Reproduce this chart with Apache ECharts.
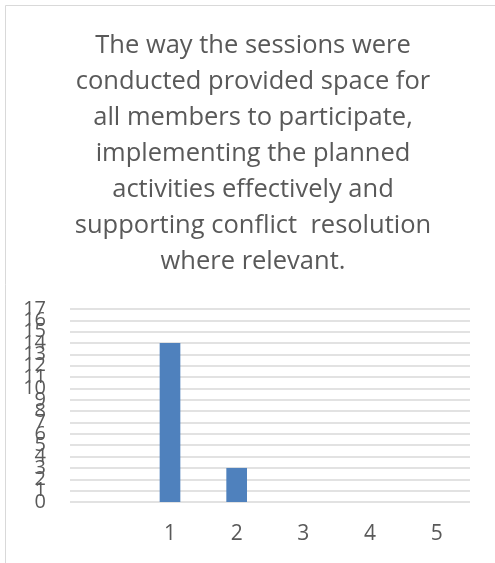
<!DOCTYPE html>
<html>
<head>
<meta charset="utf-8">
<style>
  html, body { margin: 0; padding: 0; background: #ffffff; }
  #chart { width: 495px; height: 563px; }
</style>
<script src="https://cdn.jsdelivr.net/npm/echarts@6/dist/echarts.min.js"></script>
</head>
<body>
<div id="chart"></div>
<script>
// Response categories (first slot is an empty leading category)
const categories = ['', '1', '2', '3', '4', '5'];
// Number of responses per category
const responses = [null, 14, 3, 0, 0, 0];
// Value axis range
const yMin = 0;
const yMax = 17;
const yStep = 1;

const titleText = 'The way the sessions were\nconducted provided space for\nall members to participate,\nimplementing the planned\nactivities effectively and\nsupporting conflict  resolution\nwhere relevant.';

const chart = echarts.init(document.getElementById('chart'), null, { renderer: 'canvas' });
const textColor = '#595959';
const gridColor = '#d9d9d9';

// The tick labels are tightly packed; they are spread over three stacked
// copies of the value axis (every third tick on each) so none gets dropped.
const labelLayers = 3;
const yAxes = [];
for (let k = 0; k < labelLayers; k++) {
  yAxes.push({
    type: 'value',
    min: yMin,
    max: yMax,
    interval: yStep,
    position: 'left',
    offset: 0,
    axisLine: { show: false },
    axisTick: { show: false },
    axisLabel: {
      color: textColor,
      fontFamily: 'Open Sans',
      fontSize: 20,
      margin: 24,
      showMinLabel: true,
      showMaxLabel: true,
      formatter: (v) => (Math.round(v) % labelLayers === k ? String(v) : '')
    },
    splitLine: { show: k === 0, lineStyle: { color: gridColor, width: 1.5 } }
  });
}

chart.setOption({
  animation: false,
  backgroundColor: '#ffffff',
  title: {
    text: titleText,
    left: 248,
    textAlign: 'center',
    top: 23,
    textStyle: {
      fontFamily: 'Open Sans',
      fontSize: 25.5,
      fontWeight: 'normal',
      color: textColor,
      lineHeight: 36
    }
  },
  grid: { left: 70, right: 25, top: 309, bottom: 61, containLabel: false },
  xAxis: {
    type: 'category',
    data: categories,
    axisLine: { show: false },
    axisTick: { show: false },
    axisLabel: {
      color: textColor,
      fontFamily: 'Open Sans',
      fontSize: 21,
      margin: 22,
      interval: 0
    },
    splitLine: { show: false }
  },
  yAxis: yAxes,
  series: [{
    type: 'bar',
    yAxisIndex: 0,
    data: responses,
    barWidth: '31%',
    itemStyle: { color: '#4f81bd' }
  }],
  graphic: [
    { type: 'line', shape: { x1: 5.5, y1: 5.5, x2: 5.5, y2: 563 }, style: { stroke: gridColor, lineWidth: 1 } },
    { type: 'line', shape: { x1: 5.5, y1: 5.5, x2: 495, y2: 5.5 }, style: { stroke: gridColor, lineWidth: 1 } }
  ]
});
</script>
</body>
</html>
